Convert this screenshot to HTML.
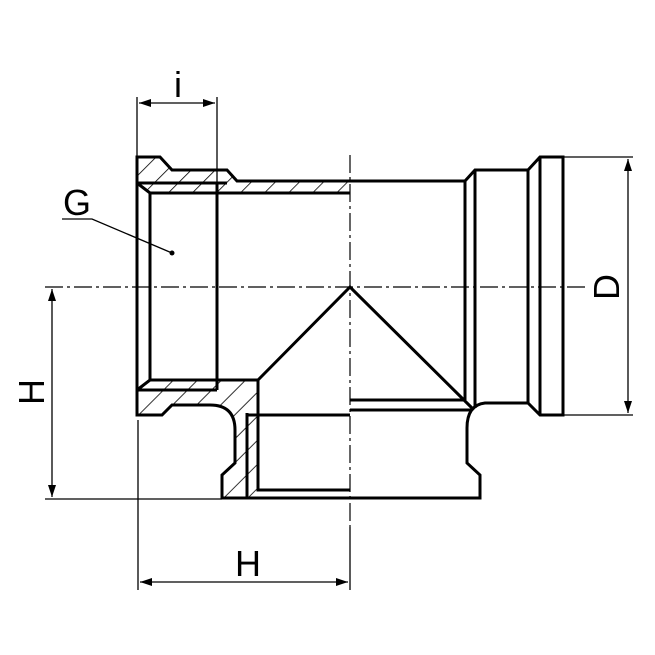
<!DOCTYPE html>
<html><head><meta charset="utf-8"><style>html,body{margin:0;padding:0;background:#fff}svg{display:block}</style></head>
<body>
<svg width="655" height="655" viewBox="0 0 655 655" xmlns="http://www.w3.org/2000/svg">
<defs>
<pattern id="h" patternUnits="userSpaceOnUse" width="17" height="17" patternTransform="rotate(45)">
<line x1="0" y1="0" x2="0" y2="17" stroke="#000" stroke-width="1.6"/>
</pattern>
<marker id="a" markerWidth="12" markerHeight="8" refX="12" refY="4" orient="auto-start-reverse" markerUnits="userSpaceOnUse">
<path d="M0,0 L12,4 L0,8 Z" fill="#000"/>
</marker>
</defs>
<g fill="none" stroke="#000">
<line x1="45" y1="287" x2="585" y2="287" stroke-width="1.2" stroke-dasharray="18,4,3,4"/>
<line x1="350" y1="155" x2="350" y2="527" stroke-width="1.2" stroke-dasharray="18,4,3,4"/>
<path d="M137,157 L160,157 L172,170 L227,170 L237,181 L350,181 L350,193 L150,193 L137,183 Z" fill="url(#h)" stroke="none"/>
<path d="M137,390 L150,380 L258,380 L258,490 L250,498 L222,498 L222,475 L235,463 L235,430 Q235,405 210,405 L172,405 L162,415 L137,415 Z" fill="url(#h)" stroke="none"/>
<g stroke-width="3">
<path d="M137,415 L137,157 L160,157 L172,170 L227,170 L237,181 L465,181 L475,170 L528,170 L540,157 L563,157 L563,415 L540,415 L528,403 L485,403 Q467,405 467,428 L467,463 L480,475 L480,498 L222,498 L222,475 L235,463 L235,430 Q235,405 210,405 L172,405 L162,415 Z"/>
<path d="M137,183 L150,193 L350,193"/>
<line x1="137" y1="183" x2="227" y2="183"/>
<line x1="150" y1="193" x2="150" y2="380"/>
<line x1="217" y1="183" x2="217" y2="390"/>
<line x1="137" y1="390" x2="217" y2="390"/>
<path d="M137,390 L150,380 L258,380 L258,490 L350,490"/>
<line x1="247" y1="413" x2="247" y2="498"/>
<line x1="247" y1="415" x2="350" y2="415"/>
<path d="M258,380 L350,287 L472,408"/>
<line x1="350" y1="400" x2="465" y2="400"/>
<line x1="350" y1="410" x2="472" y2="410"/>
<line x1="465" y1="181" x2="465" y2="400"/>
<line x1="475" y1="170" x2="475" y2="408"/>
<line x1="528" y1="170" x2="528" y2="403"/>
<line x1="540" y1="157" x2="540" y2="415"/>
</g>
<g stroke-width="1.3">
<line x1="563" y1="157" x2="633" y2="157"/>
<line x1="563" y1="415" x2="633" y2="415"/>
<line x1="628" y1="159" x2="628" y2="413" marker-start="url(#a)" marker-end="url(#a)"/>
<line x1="45" y1="499" x2="222" y2="499"/>
<line x1="52" y1="289" x2="52" y2="497" marker-start="url(#a)" marker-end="url(#a)"/>
<line x1="138" y1="420" x2="138" y2="590"/>
<line x1="350" y1="527" x2="350" y2="590"/>
<line x1="140" y1="582" x2="348" y2="582" marker-start="url(#a)" marker-end="url(#a)"/>
<line x1="137" y1="97" x2="137" y2="157"/>
<line x1="217" y1="97" x2="217" y2="183"/>
<line x1="139" y1="103" x2="215" y2="103" marker-start="url(#a)" marker-end="url(#a)"/>
<path d="M62,219 L92,219 L172,253"/>
</g>
</g>
<circle cx="172" cy="253" r="2.5" fill="#000"/>
<g font-family="Liberation Sans, sans-serif" font-size="36" fill="#000" text-anchor="middle">
<text x="178" y="97">i</text>
<text x="77" y="215">G</text>
<text x="248" y="576">H</text>
<text transform="translate(44,392) rotate(-90)">H</text>
<text transform="translate(619,287) rotate(-90)">D</text>
</g>
</svg>
</body></html>
